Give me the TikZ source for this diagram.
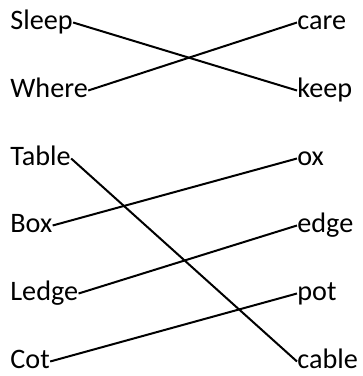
\documentclass[tikz,border=0pt]{standalone}
\usepackage{fontspec}
\setmainfont{Carlito}
\usepackage{tikz}

\begin{document}
\begin{tikzpicture}[x=0.5pt,y=-0.5pt,
    word/.style={inner xsep=0pt,inner ysep=0pt,text height=6.5pt,text depth=0pt,font=\fontsize{14.1}{17}\selectfont},
    link/.style={line width=1pt}]

    \useasboundingbox (0,0) rectangle (363,376);

    % Draw the left words
    \node[word,anchor=base west] (sleep) at (10,29) {Sleep};
    \node[word,anchor=base west] (where) at (10,97) {Where};
    \node[word,anchor=base west] (table) at (10,165) {Table};
    \node[word,anchor=base west] (box) at (10,232) {Box};
    \node[word,anchor=base west] (ledge) at (10,300) {Ledge};
    \node[word,anchor=base west] (cot) at (10,368) {Cot};

    % Draw the right words
    \node[word,anchor=base west] (care) at (297,29) {care};
    \node[word,anchor=base west] (keep) at (297,97) {keep};
    \node[word,anchor=base west] (ox) at (297,165) {ox};
    \node[word,anchor=base west] (edge) at (297,232) {edge};
    \node[word,anchor=base west] (pot) at (297,300) {pot};
    \node[word,anchor=base west] (cable) at (297,368) {cable};

    % Draw the matching lines
    \draw[link] (sleep.east) -- (keep.west);
    \draw[link] (where.east) -- (care.west);
    \draw[link] (table.east) -- (cable.west);
    \draw[link] (box.east) -- (ox.west);
    \draw[link] (ledge.east) -- (edge.west);
    \draw[link] (cot.east) -- (pot.west);

\end{tikzpicture}
\end{document}
